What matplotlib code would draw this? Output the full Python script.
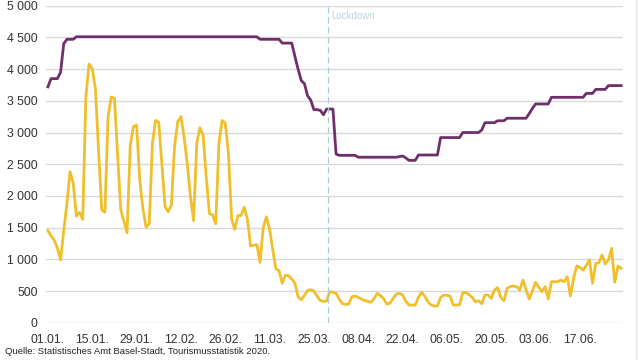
import numpy as np
import matplotlib.pyplot as plt
from matplotlib.ticker import FuncFormatter

plt.rcParams['font.family'] = ['Liberation Sans', 'DejaVu Sans']

# Daily values, 01.01.2020 - 30.06.2020 (182 days)
days = np.arange(182)

# purple series
capacity = [
    3720, 3850, 3850, 3850, 3950, 4400, 4470, 4470, 4470, 4510,
    4510, 4510, 4510, 4510, 4510, 4510, 4510, 4510, 4510, 4510,
    4510, 4510, 4510, 4510, 4510, 4510, 4510, 4510, 4510, 4510,
    4510, 4510, 4510, 4510, 4510, 4510, 4510, 4510, 4510, 4510,
    4510, 4510, 4510, 4510, 4510, 4510, 4510, 4510, 4510, 4510,
    4510, 4510, 4510, 4510, 4510, 4510, 4510, 4510, 4510, 4510,
    4510, 4510, 4510, 4510, 4510, 4510, 4510, 4470, 4470, 4470,
    4470, 4470, 4470, 4470, 4410, 4410, 4410, 4410, 4200, 4000,
    3820, 3770, 3580, 3510, 3360, 3360, 3350, 3280, 3370, 3370,
    3370, 2660, 2640, 2640, 2640, 2640, 2640, 2640, 2610, 2610,
    2610, 2610, 2610, 2610, 2610, 2610, 2610, 2610, 2610, 2610,
    2610, 2620, 2630, 2600, 2560, 2560, 2560, 2645, 2645, 2645,
    2645, 2645, 2645, 2645, 2920, 2920, 2920, 2920, 2920, 2920,
    2920, 3000, 3000, 3000, 3000, 3000, 3000, 3040, 3155, 3155,
    3155, 3155, 3185, 3185, 3185, 3225, 3225, 3225, 3225, 3225,
    3225, 3225, 3300, 3380, 3450, 3450, 3450, 3450, 3450, 3555,
    3555, 3555, 3555, 3555, 3555, 3555, 3555, 3555, 3555, 3555,
    3617, 3617, 3617, 3680, 3680, 3680, 3680, 3740, 3740, 3740,
    3740, 3740,
]

# yellow series
stays = [
    1450, 1370, 1300, 1180, 990, 1450, 1880, 2380, 2200, 1680,
    1740, 1630, 3570, 4080, 4010, 3690, 2700, 1780, 1740, 3250,
    3560, 3540, 2650, 1780, 1600, 1420, 2800, 3090, 3120, 2250,
    1800, 1510, 1560, 2830, 3190, 3160, 2500, 1830, 1750, 1860,
    2780, 3170, 3250, 2930, 2510, 2000, 1610, 2830, 3075, 2960,
    2300, 1720, 1700, 1560, 2830, 3190, 3150, 2670, 1640, 1470,
    1690, 1690, 1820, 1630, 1210, 1220, 1230, 950, 1500, 1670,
    1480, 1150, 850, 820, 620, 750, 740, 690, 620, 410,
    360, 430, 510, 520, 500, 420, 350, 335, 340, 490,
    480, 465, 370, 300, 290, 295, 410, 421, 400, 374,
    350, 335, 322, 380, 464, 430, 380, 295, 306, 380,
    450, 464, 437, 340, 279, 279, 280, 400, 479, 420,
    331, 280, 263, 263, 400, 437, 430, 420, 279, 280,
    284, 473, 479, 440, 400, 330, 347, 300, 437, 437,
    385, 516, 552, 400, 347, 542, 570, 579, 568, 516,
    673, 520, 374, 500, 637, 560, 489, 568, 374, 647,
    647, 647, 673, 647, 725, 421, 700, 894, 873, 830,
    900, 989, 621, 937, 946, 1068, 926, 989, 1173, 637,
    894, 858,
]

tick_days = [0, 14, 28, 42, 56, 70, 84, 98, 112, 126, 140, 154, 168]
tick_labels = ['01.01.', '15.01.', '29.01.', '12.02.', '26.02.', '11.03.', '25.03.',
               '08.04.', '22.04.', '06.05.', '20.05.', '03.06.', '17.06.']
lockdown_day = 88.6

fig = plt.figure(figsize=(6.4, 3.6), dpi=100)
ax = fig.add_axes([46 / 640, 1 - 322.7 / 360, 577 / 640, 317 / 360])

ax.plot(days, capacity, color='#6e2f6b', lw=2)
ax.plot(days, stays, color='#f0bf2c', lw=2)

ax.axvline(lockdown_day, color='#a9cbd9', lw=0.9, ls=(0, (5, 3)))
ax.text(lockdown_day + 1, 4840, 'Lockdown', color='#bcd3dd', fontsize=7, va='center')

ax.set_xlim(-0.6, 181.6)
ax.set_ylim(0, 5000)
ax.set_yticks(range(0, 5001, 500))
ax.yaxis.set_major_formatter(FuncFormatter(lambda v, p: f'{int(v):,}'.replace(',', ' ')))
ax.set_xticks(tick_days)
ax.set_xticklabels(tick_labels)
ax.grid(axis='y', color='#d9d9d9', lw=1)
ax.set_axisbelow(True)
for s in ax.spines.values():
    s.set_visible(False)
ax.tick_params(length=0, labelsize=8.8, colors='#333333')
ax.tick_params(axis='y', pad=6)
ax.tick_params(axis='x', pad=8)

fig.text(5 / 640, 1 - 352 / 360, 'Quelle: Statistisches Amt Basel-Stadt, Tourismusstatistik 2020.',
         fontsize=6.8, color='#222222', va='center')
fig.add_artist(plt.Line2D([636 / 640, 636 / 640], [0, 1], color='#e6e6e6', lw=1))

fig.savefig('out.png', dpi=100)
